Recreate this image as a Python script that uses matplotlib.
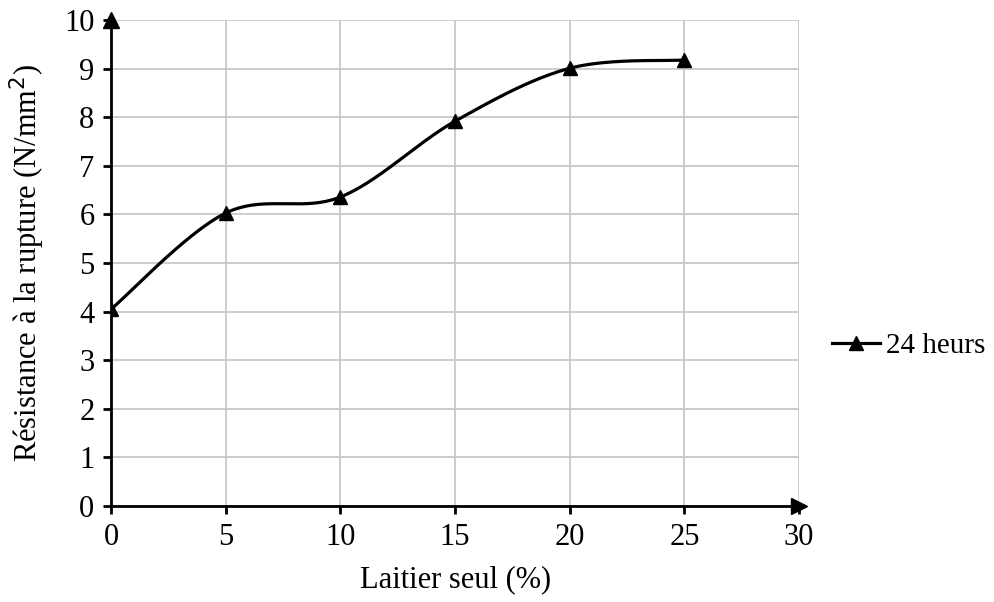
import numpy as np
import matplotlib.pyplot as plt

plt.rcParams['font.family'] = ['Liberation Serif', 'DejaVu Serif']

# data
laitier = [0, 5, 10, 15, 20, 25]
resistance = [4.05, 6.03, 6.36, 7.92, 9.01, 9.18]
serie_label = "24 heurs"

# smooth line like Excel (bezier through points, tension 1/6)
def smooth(x, y, n=40):
    p = np.column_stack([x, y]).astype(float)
    pts = []
    for i in range(len(p) - 1):
        p0 = p[i - 1] if i > 0 else p[i]
        p1 = p[i]
        p2 = p[i + 1]
        p3 = p[i + 2] if i + 2 < len(p) else p[i + 1]
        c1 = p1 + (p2 - p0) / 6
        c2 = p2 - (p3 - p1) / 6
        t = np.linspace(0, 1, n)[:, None]
        seg = ((1 - t)**3) * p1 + 3 * ((1 - t)**2) * t * c1 + 3 * (1 - t) * t**2 * c2 + t**3 * p2
        pts.append(seg)
    pts = np.vstack(pts)
    return pts[:, 0], pts[:, 1]

fig = plt.figure(figsize=(9.95, 6.02), dpi=100)
ax = fig.add_axes([0.1116, 0.1595, 0.6915, 0.807])

sx, sy = smooth(laitier, resistance)
ax.plot(sx, sy, color='black', lw=2.3, zorder=3)
ax.plot(laitier, resistance, ls='none', marker='^', ms=10.5, color='black', zorder=4)
# legend handle
ax.plot([], [], color='black', lw=2.3, marker='^', ms=10, label=serie_label)

ax.set_xlim(0, 30)
ax.set_ylim(0, 10)
ax.set_xticks(range(0, 31, 5))
ax.set_yticks(range(0, 11, 1))
ax.grid(True, color='#c8c8c8', lw=1.3)
ax.set_axisbelow(True)

for s in ['top', 'right']:
    ax.spines[s].set_visible(False)
for s in ['left', 'bottom']:
    ax.spines[s].set_linewidth(2)
    ax.spines[s].set_zorder(5)

ax.tick_params(axis='both', direction='out', length=6, width=2, labelsize=22, pad=6)

# axis arrows
ax.plot(1, 0, '>', color='black', ms=11, transform=ax.transAxes, clip_on=False, zorder=6)
ax.plot(0, 1, '^', color='black', ms=11, transform=ax.transAxes, clip_on=False, zorder=6)

ax.set_xlabel('Laitier seul (%)', fontsize=22, labelpad=10)
ax.set_ylabel('Résistance à la rupture (N/mm$^2$)', fontsize=22, labelpad=12)

ax.legend(loc='center left', bbox_to_anchor=(1.031, 0.33), frameon=False,
          fontsize=21, handlelength=1.65, handletextpad=0.2, borderaxespad=0)

fig.savefig('out.png', dpi=100)
